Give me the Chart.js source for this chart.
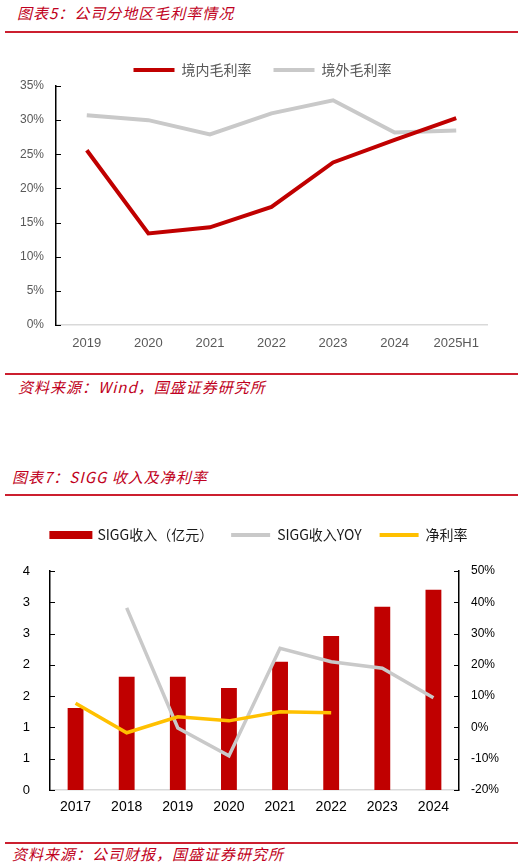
<!DOCTYPE html>
<html>
<head>
<meta charset="utf-8">
<script src="https://cdn.jsdelivr.net/npm/chart.js@4/dist/chart.umd.min.js"></script>
<style>
  body { margin: 0; background: #fff; width: 525px; height: 867px; position: relative; overflow: hidden; font-family: "Noto Sans CJK SC", sans-serif; }
  .title, .source { position: absolute; color: #c00020; font-style: italic; font-size: 15px; line-height: 20px; letter-spacing: 1px; white-space: nowrap; }
  .rule { position: absolute; left: 5px; width: 513px; height: 2px; background: #cc1f2f; }
  canvas { position: absolute; left: 0; }
</style>
</head>
<body>
<div class="title" style="left:17px;top:3px">图表5：公司分地区毛利率情况</div>
<div class="rule" style="top:31px"></div>
<canvas id="marginChart" width="525" height="329" style="top:36px"></canvas>
<div class="rule" style="top:373px"></div>
<div class="source" style="left:18px;top:377px">资料来源：Wind，国盛证券研究所</div>

<div class="title" style="left:12px;top:467px">图表7：SIGG 收入及净利率</div>
<div class="rule" style="top:494px"></div>
<canvas id="siggChart" width="525" height="320" style="top:505px"></canvas>
<div class="rule" style="top:842px"></div>
<div class="source" style="left:12px;top:844px">资料来源：公司财报，国盛证券研究所</div>

<script>
// 图表5 数据（%）
const regionYears = ['2019', '2020', '2021', '2022', '2023', '2024', '2025H1'];
const domesticMargin = [25.6, 13.4, 14.3, 17.3, 23.8, 27.1, 30.3];
const overseasMargin = [30.7, 30.0, 27.9, 31.0, 32.9, 28.2, 28.5];

// 图表7 数据
const siggYears = ['2017', '2018', '2019', '2020', '2021', '2022', '2023', '2024'];
const siggRevenue = [1.31, 1.81, 1.81, 1.63, 2.05, 2.46, 2.93, 3.20];      // 亿元
const siggRevenueYoy = [null, 38.2, -0.2, -9.1, 25.3, 21.0, 18.9, 9.5];    // %
const siggNetMargin = [7.7, -1.7, 3.4, 2.1, 5.0, 4.7, null, null];         // %

const RED = '#c00000';
const GREY = '#c9c9c9';
const GOLD = '#ffc000';
const numFont = { family: "'Liberation Sans', Arial, sans-serif" };
const cjkFont = "'Noto Sans CJK SC', sans-serif";

// 坐标轴内侧刻度线
const inwardTicks = {
    id: 'inwardTicks',
    afterDraw(chart, args, opts) {
        const ctx = chart.ctx;
        ctx.save();
        ctx.strokeStyle = '#000';
        ctx.lineWidth = 1;
        (opts.axes || []).forEach(id => {
            const s = chart.scales[id];
            const left = s.position === 'left';
            const x0 = left ? s.right : s.left;
            s.ticks.forEach((t, i) => {
                const y = Math.round(s.getPixelForTick(i)) + 0.5;
                ctx.beginPath();
                ctx.moveTo(x0, y);
                ctx.lineTo(x0 + (left ? 5 : -5), y);
                ctx.stroke();
            });
        });
        ctx.restore();
    }
};

// 图表5：分地区毛利率
new Chart(document.getElementById('marginChart'), {
    type: 'line',
    data: {
        labels: regionYears,
        datasets: [
            { label: '境内毛利率', data: domesticMargin, borderColor: RED, backgroundColor: RED, borderWidth: 4, pointRadius: 0, tension: 0 },
            { label: '境外毛利率', data: overseasMargin, borderColor: GREY, backgroundColor: GREY, borderWidth: 4, pointRadius: 0, tension: 0 }
        ]
    },
    plugins: [inwardTicks],
    options: {
        responsive: false,
        animation: false,
        layout: { padding: { top: 5, left: 0, right: 0, bottom: 0 } },
        plugins: {
            inwardTicks: { axes: ['y'] },
            tooltip: { enabled: false },
            legend: {
                position: 'top',
                maxHeight: 45,
                labels: {
                    boxWidth: 41, boxHeight: 4, padding: 22, color: '#595959',
                    font: { family: cjkFont, size: 14 },
                    generateLabels(chart) {
                        return Chart.defaults.plugins.legend.labels.generateLabels(chart).map(l => ({ ...l, lineWidth: 0 }));
                    }
                }
            }
        },
        scales: {
            x: {
                offset: true,
                grid: { display: false, drawTicks: false },
                border: { color: '#d9d9d9', width: 1.5 },
                ticks: { color: '#595959', padding: 11, font: { ...numFont, size: 13 } },
                afterFit(s) { s.height = 40; }
            },
            y: {
                min: 0, max: 35,
                grid: { display: false, drawTicks: false },
                border: { color: '#000', width: 1.5 },
                ticks: { stepSize: 5, color: '#595959', padding: 12, font: { ...numFont, size: 12 }, callback: v => v + '%' },
                afterFit(s) { s.width = 56; }
            },
            pad: {
                position: 'right',
                grid: { display: false, drawTicks: false },
                border: { display: false },
                ticks: { display: false },
                afterFit(s) { s.width = 38; }
            }
        }
    }
});

// 图表7：SIGG 收入及净利率
new Chart(document.getElementById('siggChart'), {
    data: {
        labels: siggYears,
        datasets: [
            { type: 'bar', label: 'SIGG收入（亿元）', data: siggRevenue, yAxisID: 'y', backgroundColor: RED, borderColor: RED, categoryPercentage: 1, barPercentage: 0.31, order: 2 },
            { type: 'line', label: 'SIGG收入YOY', data: siggRevenueYoy, yAxisID: 'y1', borderColor: GREY, backgroundColor: GREY, borderWidth: 3.5, pointRadius: 0, tension: 0, order: 1 },
            { type: 'line', label: '净利率', data: siggNetMargin, yAxisID: 'y1', borderColor: GOLD, backgroundColor: GOLD, borderWidth: 3.5, pointRadius: 0, tension: 0, order: 0 }
        ]
    },
    plugins: [inwardTicks],
    options: {
        responsive: false,
        animation: false,
        layout: { padding: { top: 5, left: 0, right: 6, bottom: 0 } },
        plugins: {
            inwardTicks: { axes: ['y', 'y1'] },
            tooltip: { enabled: false },
            legend: {
                position: 'top',
                labels: {
                    boxWidth: 39, boxHeight: 4, padding: 18, color: '#1a1a1a',
                    font: { family: cjkFont, size: 14 },
                    sort: (a, b) => a.datasetIndex - b.datasetIndex,
                    generateLabels(chart) {
                        return Chart.defaults.plugins.legend.labels.generateLabels(chart).map(l =>
                            ({ ...l, lineWidth: l.datasetIndex === 0 ? 4 : 0, strokeStyle: l.fillStyle }));
                    }
                }
            }
        },
        scales: {
            x: {
                grid: { display: false, drawTicks: false },
                border: { color: '#d9d9d9', width: 1.5 },
                ticks: { color: '#000', padding: 9, font: { ...numFont, size: 14 } },
                afterFit(s) { s.height = 35; }
            },
            gap: {
                type: 'category',
                position: 'top',
                grid: { display: false, drawTicks: false },
                border: { display: false },
                ticks: { display: false },
                afterFit(s) { s.height = 19; }
            },
            y: {
                position: 'left',
                min: 0, max: 3.5,
                grid: { display: false, drawTicks: false },
                border: { color: '#000', width: 1.5 },
                ticks: { stepSize: 0.5, color: '#000', padding: 20, font: { ...numFont, size: 13 }, callback: v => String(Math.round(v)) },
                afterFit(s) { s.width = 50; }
            },
            y1: {
                position: 'right',
                min: -20, max: 50,
                grid: { display: false, drawTicks: false },
                border: { color: '#000', width: 1.5 },
                ticks: { stepSize: 10, color: '#000', padding: 12, font: { ...numFont, size: 12 }, callback: v => v + '%' },
                afterFit(s) { s.width = 60; }
            }
        }
    }
});
</script>
</body>
</html>
